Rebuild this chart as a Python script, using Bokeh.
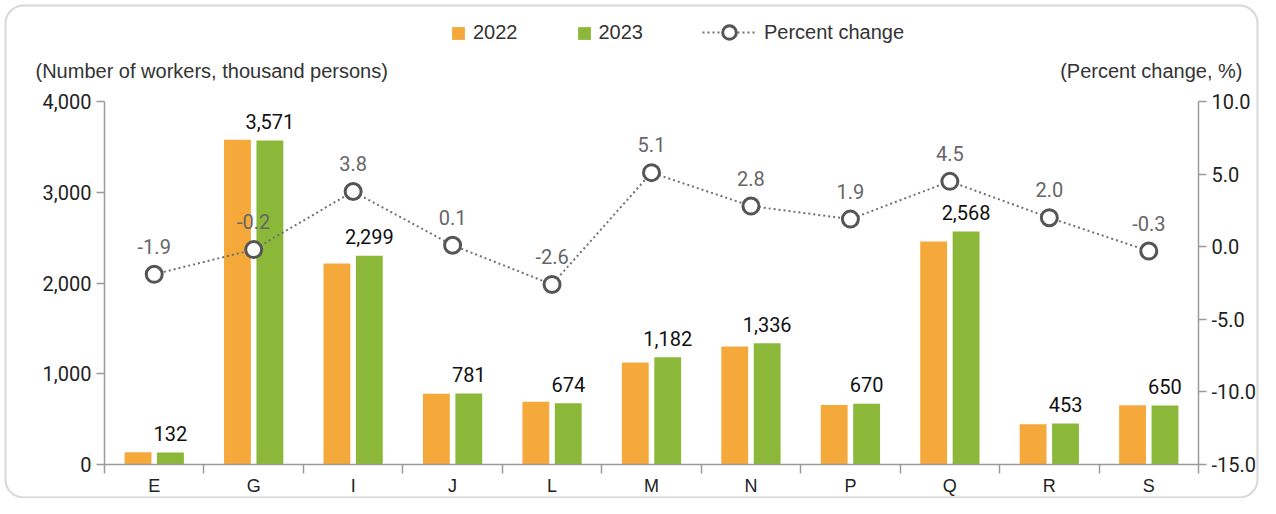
from bokeh.plotting import figure
from bokeh.models import (Range1d, LinearAxis, FixedTicker, ColumnDataSource, Legend,
                          LegendItem, Label, BoxAnnotation, NumeralTickFormatter)
from bokeh.core.properties import value
from bokeh.transform import dodge
from bokeh.embed import file_html
from bokeh.resources import INLINE

categories = ["E", "G", "I", "J", "L", "M", "N", "P", "Q", "R", "S"]
workers_2022 = [135, 3578, 2215, 780, 692, 1125, 1300, 657, 2457, 444, 652]
workers_2023 = [132, 3571, 2299, 781, 674, 1182, 1336, 670, 2568, 453, 650]
pct_change = [-1.9, -0.2, 3.8, 0.1, -2.6, 5.1, 2.8, 1.9, 4.5, 2.0, -0.3]
left_ticks = [0, 1000, 2000, 3000, 4000]
right_ticks = [-15, -10, -5, 0, 5, 10]

ORANGE = "#F5A93A"
GREEN = "#8CB83A"
AXIS = "#9a9a9a"
NUMFONT = "Roboto"
TXTFONT = "Liberation Sans"

# layout in canvas pixels: the frame fills the whole canvas, axes sit at fixed locations
W, H = 1260, 498
AX_LEFT, AX_RIGHT = 104, 1198     # canvas x of the two value axes
AX_TOP, AX_BOTTOM = 101, 464      # canvas y of the axis ends

n = len(categories)
xs = [i + 0.5 for i in range(n)]
src = ColumnDataSource(dict(
    x=xs, cat=categories, y22=workers_2022, y23=workers_2023, pct=pct_change,
    lab23=[f"{v:,}" for v in workers_2023],
    labpct=[f"{v:.1f}" for v in pct_change],
))

def span(lo, hi, p_lo, p_hi, total, flip=False):
    """Extend a data interval [lo, hi] drawn between pixels p_lo..p_hi to the full canvas."""
    per = (hi - lo) / (p_hi - p_lo)
    if flip:   # y: p_lo is the top pixel (hi), p_hi the bottom pixel (lo)
        return lo - (total - p_hi) * per, hi + p_lo * per
    return lo - p_lo * per, hi + (total - p_hi) * per

x0, x1 = span(0, n, AX_LEFT, AX_RIGHT, W)
y0, y1 = span(left_ticks[0], left_ticks[-1], AX_TOP, AX_BOTTOM, H, flip=True)
q0, q1 = span(right_ticks[0], right_ticks[-1], AX_TOP, AX_BOTTOM, H, flip=True)

p = figure(width=W, height=H, output_backend="svg", toolbar_location=None,
           x_range=Range1d(x0, x1), y_range=Range1d(y0, y1),
           min_border=0, x_axis_location=None, y_axis_location=None)
p.title.visible = False
p.extra_y_ranges = {"pct": Range1d(q0, q1)}
p.outline_line_color = None
p.xgrid.visible = False
p.ygrid.visible = False
p.background_fill_color = "white"
p.border_fill_color = "white"

# axes at fixed locations (they take no side-panel space)
yax = LinearAxis(ticker=FixedTicker(ticks=left_ticks), formatter=NumeralTickFormatter(format="0,0"),
                 bounds=(left_ticks[0], left_ticks[-1]), fixed_location=0)
rax = LinearAxis(y_range_name="pct", ticker=FixedTicker(ticks=right_ticks),
                 formatter=NumeralTickFormatter(format="0.0"),
                 bounds=(right_ticks[0], right_ticks[-1]), fixed_location=n)
xax = LinearAxis(ticker=FixedTicker(ticks=xs, minor_ticks=list(range(n + 1))),
                 bounds=(0, n), fixed_location=left_ticks[0])
xax.major_label_overrides = {x: c for x, c in zip(xs, categories)}
p.add_layout(yax, "left")
p.add_layout(rax, "right")
p.add_layout(xax, "below")

for ax in [yax, xax, rax]:
    ax.axis_line_color = AXIS
    ax.axis_line_width = 1.5
    ax.major_label_text_font_size = "20px"
    ax.major_label_text_color = "#222222"
    ax.minor_tick_line_color = AXIS
    ax.minor_tick_line_width = 1.5
for ax in [yax, rax]:
    ax.major_tick_line_color = AXIS
    ax.major_tick_line_width = 1.5
    ax.major_tick_out = 8
    ax.major_tick_in = 0
    ax.minor_tick_line_color = None
    ax.major_label_text_font = NUMFONT
    ax.major_label_standoff = 5
xax.major_tick_line_color = None
xax.major_tick_out = 0
xax.major_tick_in = 0
xax.minor_tick_out = 9
xax.minor_tick_in = 0
xax.major_label_standoff = 2
xax.major_label_text_font = TXTFONT
xax.major_label_text_font_size = "18px"

# bars
r22 = p.vbar(x=dodge("x", -0.163, range=p.x_range), top="y22", width=0.27, source=src,
             fill_color=ORANGE, line_color=None)
r23 = p.vbar(x=dodge("x", 0.163, range=p.x_range), top="y23", width=0.27, source=src,
             fill_color=GREEN, line_color=None)
p.text(x=dodge("x", 0.163, range=p.x_range), y="y23", text="lab23", source=src,
       text_align="center", text_baseline="alphabetic", y_offset=-19,
       text_font=value(NUMFONT), text_font_size="20px", text_color="#111111")

# percent line
lr = p.line(x="x", y="pct", source=src, y_range_name="pct", line_color="#707070",
            line_width=2, line_dash="2 3")
cr = p.scatter(x="x", y="pct", source=src, y_range_name="pct", size=16,
               fill_color="white", line_color="#555555", line_width=3)
p.text(x="x", y="pct", text="labpct", source=src, y_range_name="pct",
       text_align="center", text_baseline="alphabetic", y_offset=-28,
       text_font=value(NUMFONT), text_font_size="20px", text_color="#666666")

# legends
leg1 = Legend(items=[LegendItem(label="2022", renderers=[r22]),
                     LegendItem(label="2023", renderers=[r23])],
              orientation="horizontal", location=(450, H - 44),
              glyph_width=16, glyph_height=16, label_standoff=7, spacing=58,
              padding=0, margin=0, border_line_color=None, background_fill_alpha=0,
              label_text_font=TXTFONT, label_text_font_size="20px", label_text_color="#333333")
leg2 = Legend(items=[LegendItem(label="Percent change", renderers=[lr, cr])],
              orientation="horizontal", location=(702, H - 49),
              glyph_width=54, glyph_height=34, label_standoff=8,
              padding=0, margin=0, border_line_color=None, background_fill_alpha=0,
              label_text_font=TXTFONT, label_text_font_size="20px", label_text_color="#333333")
p.add_layout(leg1)
p.add_layout(leg2)

# axis titles
p.add_layout(Label(x=35, y=H - 70, x_units="screen", y_units="screen",
                   text="(Number of workers, thousand persons)", text_baseline="middle",
                   text_font=TXTFONT, text_font_size="20px", text_color="#333333"))
p.add_layout(Label(x=1242, y=H - 70, x_units="screen", y_units="screen",
                   text="(Percent change, %)", text_baseline="middle", text_align="right",
                   text_font=TXTFONT, text_font_size="20px", text_color="#333333"))

# rounded outer frame
p.add_layout(BoxAnnotation(left=5, right=W - 3, bottom=1, top=H - 5,
                           left_units="screen", right_units="screen",
                           top_units="screen", bottom_units="screen",
                           fill_alpha=0, line_color="#7a7a7a", line_width=2,
                           border_radius=18))

open("out.html", "w").write(file_html(p, INLINE))
